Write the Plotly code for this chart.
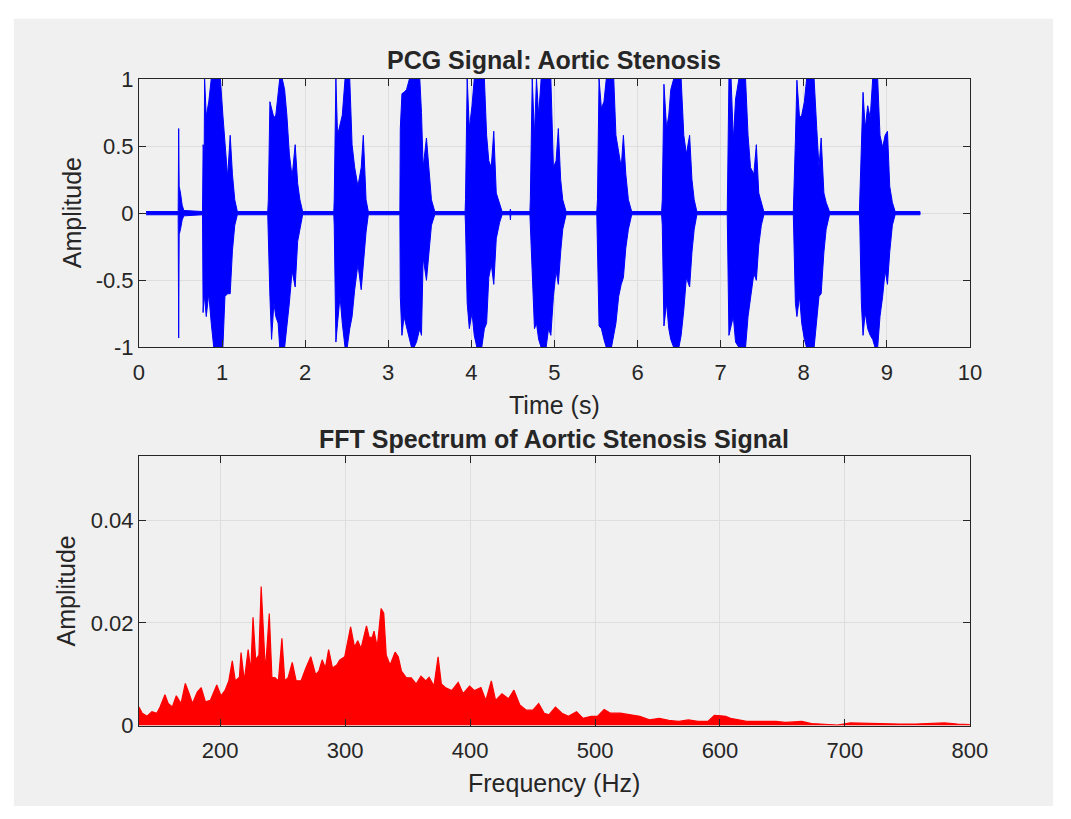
import plotly.graph_objects as go

# ---------------------------------------------------------------
# PCG recording (aortic stenosis): amplitude envelope of the trace,
# sampled in time.  sig_hi / sig_lo are the upper and lower extents
# of the waveform at each instant sig_t (seconds).
# ---------------------------------------------------------------
sig_t = [
    0.086, 0.472, 0.478, 0.484, 0.500, 0.520, 0.540,
    # heartbeat 1
    0.765, 0.772, 0.785, 0.790, 0.810, 0.840, 0.870, 0.900, 0.930, 0.957, 0.980,
    1.010, 1.035, 1.067, 1.098, 1.125, 1.153, 1.184,
    # heartbeat 2
    1.550, 1.557, 1.576, 1.596, 1.624, 1.647, 1.675, 1.694, 1.725, 1.753, 1.780,
    1.810, 1.843, 1.880, 1.910, 1.937, 1.970,
    # heartbeat 3
    2.345, 2.350, 2.370, 2.390, 2.420, 2.447, 2.480, 2.506, 2.537, 2.565, 2.596,
    2.635, 2.675, 2.700, 2.733, 2.760,
    # heartbeat 4
    3.140, 3.145, 3.165, 3.190, 3.220, 3.255, 3.280, 3.310, 3.340, 3.380, 3.400,
    3.420, 3.460, 3.520, 3.560,
    # heartbeat 5
    3.925, 3.930, 3.950, 3.976, 4.008, 4.035, 4.067, 4.094, 4.125, 4.157, 4.184,
    4.210, 4.240, 4.270, 4.300, 4.340, 4.370, 4.465, 4.470, 4.475,
    # heartbeat 6
    4.705, 4.710, 4.733, 4.760, 4.784, 4.810, 4.840, 4.870, 4.900, 4.929, 4.957,
    4.988, 5.020, 5.047, 5.075, 5.100, 5.140,
    # heartbeat 7
    5.510, 5.518, 5.537, 5.565, 5.596, 5.624, 5.655, 5.686, 5.714, 5.740, 5.773,
    5.804, 5.830, 5.859, 5.890, 5.930,
    # heartbeat 8
    6.290, 6.298, 6.318, 6.350, 6.376, 6.400, 6.435, 6.470, 6.498, 6.525, 6.557,
    6.588, 6.627, 6.655, 6.682, 6.714,
    # heartbeat 9
    7.080, 7.100, 7.126, 7.153, 7.180, 7.220, 7.243, 7.270, 7.300, 7.330, 7.360,
    7.400, 7.430, 7.459, 7.490, 7.520,
    # heartbeat 10
    7.875, 7.880, 7.900, 7.918, 7.950, 7.976, 8.008, 8.035, 8.067, 8.094, 8.125,
    8.157, 8.184, 8.210, 8.243, 8.270, 8.310,
    # heartbeat 11
    8.670, 8.675, 8.694, 8.714, 8.740, 8.770, 8.800, 8.830, 8.859, 8.890, 8.918,
    8.950, 8.980, 9.008, 9.035, 9.067, 9.100, 9.400,
]
sig_hi = [
    0.012, 0.012, 0.63, 0.20, 0.15, 0.06, 0.02,
    0.012, 0.51, 0.45, 1.00, 0.72, 0.83, 1.00, 1.00, 1.00, 1.00, 1.00,
    0.73, 0.51, 0.27, 0.58, 0.29, 0.10, 0.012,
    0.012, 0.10, 0.83, 0.78, 0.71, 0.73, 0.90, 1.00, 1.00, 0.92, 0.73,
    0.44, 0.27, 0.51, 0.22, 0.10, 0.012,
    0.012, 0.10, 1.00, 0.58, 0.66, 0.73, 1.00, 1.00, 1.00, 0.51, 0.34,
    0.20, 0.34, 0.58, 0.10, 0.012,
    0.012, 0.63, 0.89, 0.90, 0.92, 1.00, 1.00, 1.00, 1.00, 1.00, 0.75,
    0.34, 0.56, 0.10, 0.012,
    0.012, 0.10, 1.00, 0.63, 0.80, 1.00, 1.00, 1.00, 1.00, 1.00, 0.58,
    0.39, 0.34, 0.61, 0.15, 0.08, 0.012, 0.012, 0.03, 0.012,
    0.012, 0.10, 1.00, 0.58, 1.00, 0.73, 1.00, 1.00, 1.00, 1.00, 1.00,
    0.34, 0.39, 0.63, 0.25, 0.10, 0.012,
    0.012, 0.10, 1.00, 0.78, 0.83, 1.00, 1.00, 1.00, 1.00, 0.58, 0.44,
    0.34, 0.58, 0.29, 0.10, 0.012,
    0.012, 0.10, 0.96, 0.63, 0.73, 0.92, 1.00, 1.00, 1.00, 1.00, 0.58,
    0.44, 0.58, 0.25, 0.10, 0.012,
    0.012, 1.00, 1.00, 0.54, 0.85, 1.00, 1.00, 1.00, 1.00, 0.58, 0.34,
    0.29, 0.51, 0.15, 0.08, 0.012,
    0.012, 0.10, 0.54, 0.99, 0.71, 0.73, 0.83, 1.00, 1.00, 1.00, 1.00,
    0.63, 0.34, 0.56, 0.15, 0.08, 0.012,
    0.012, 0.10, 0.42, 0.90, 0.63, 0.80, 0.71, 1.00, 1.00, 1.00, 0.58,
    0.49, 0.58, 0.61, 0.20, 0.08, 0.012, 0.012,
]
sig_lo = [
    -0.012, -0.012, -0.93, -0.16, -0.12, -0.05, -0.02,
    -0.012, -0.74, -0.60, -0.62, -0.77, -0.60, -0.82, -1.00, -1.00, -1.00, -1.00,
    -1.00, -0.62, -0.60, -0.60, -0.28, -0.09, -0.012,
    -0.012, -0.07, -0.62, -0.94, -0.67, -0.77, -0.82, -1.00, -1.00, -1.00, -0.86,
    -0.67, -0.43, -0.55, -0.21, -0.12, -0.012,
    -0.012, -0.09, -0.96, -0.82, -0.62, -0.82, -1.00, -1.00, -0.86, -0.77, -0.57,
    -0.38, -0.57, -0.41, -0.14, -0.012,
    -0.012, -0.62, -0.91, -0.77, -0.84, -0.94, -1.00, -1.00, -0.96, -0.86, -0.91,
    -0.33, -0.50, -0.09, -0.012,
    -0.012, -0.09, -0.67, -0.86, -0.74, -0.91, -1.00, -1.00, -1.00, -0.86, -0.82,
    -0.48, -0.38, -0.53, -0.19, -0.07, -0.012, -0.012, -0.05, -0.012,
    -0.012, -0.09, -0.38, -0.86, -0.82, -0.94, -1.00, -1.00, -1.00, -0.86, -0.91,
    -0.62, -0.43, -0.53, -0.29, -0.12, -0.012,
    -0.012, -0.09, -0.84, -0.86, -0.94, -1.00, -1.00, -1.00, -0.91, -0.82, -0.62,
    -0.53, -0.48, -0.26, -0.12, -0.012,
    -0.012, -0.09, -0.84, -0.67, -0.86, -0.94, -1.00, -1.00, -1.00, -0.91, -0.72,
    -0.48, -0.55, -0.29, -0.12, -0.012,
    -0.012, -0.91, -0.84, -0.77, -0.96, -1.00, -1.00, -1.00, -1.00, -0.77, -0.62,
    -0.45, -0.50, -0.24, -0.09, -0.012,
    -0.012, -0.09, -0.67, -0.77, -0.62, -0.82, -0.94, -1.00, -1.00, -1.00, -1.00,
    -0.82, -0.62, -0.60, -0.29, -0.12, -0.012,
    -0.012, -0.09, -0.67, -0.91, -0.74, -0.86, -0.91, -0.94, -1.00, -1.00, -0.77,
    -0.62, -0.43, -0.53, -0.29, -0.09, -0.012, -0.012,
]

# ---------------------------------------------------------------
# Magnitude spectrum (upper envelope) of the same recording.
# ---------------------------------------------------------------
fft_freq = [
    135.0, 137.6, 141.5, 145.4, 149.3, 151.9, 155.8, 158.4, 161.7, 164.9,
    168.7, 172.1, 175.2, 177.8, 181.7, 184.8, 188.2, 192.1, 197.3, 200.6,
    203.8, 206.9, 209.7, 212.1, 215.4, 216.7, 219.3, 222.4, 224.5, 226.3,
    228.4, 231.0, 232.8, 234.4, 236.2, 239.3, 241.4, 244.0, 246.6, 249.4,
    251.7, 254.3, 257.7, 260.8, 264.7, 268.6, 272.5, 276.4, 279.0, 281.6,
    284.2, 286.8, 289.9, 293.3, 295.8, 299.7, 302.3, 304.4, 307.5, 310.1,
    312.7, 315.3, 317.1, 319.2, 321.8, 323.1, 325.7, 328.8, 330.9, 332.9,
    336.0, 340.0, 342.5, 345.1, 349.0, 352.9, 356.8, 360.7, 364.6, 367.2,
    371.1, 374.4, 377.0, 380.1, 385.3, 390.5, 394.4, 399.6, 403.5, 408.7,
    412.6, 417.0, 420.4, 425.5, 430.7, 435.1, 439.8, 445.0, 450.2, 454.9,
    459.3, 463.2, 468.3, 473.5, 478.7, 485.2, 490.4, 496.9, 502.1, 507.3,
    512.4, 520.2, 528.0, 535.8, 543.6, 551.4, 559.1, 566.9, 574.7, 582.5,
    590.3, 595.5, 600.6, 604.5, 608.4, 613.6, 621.4, 629.2, 637.0, 644.7,
    652.5, 665.5, 673.3, 683.6, 694.0, 704.4, 717.4, 730.3, 743.3, 756.3,
    769.3, 779.6, 790.0, 797.3, 800.0,
]
fft_amp = [
    0.0036, 0.0024, 0.0018, 0.0027, 0.0024, 0.0036, 0.0060, 0.0043, 0.0036, 0.0058,
    0.0043, 0.0082, 0.0062, 0.0043, 0.0065, 0.0074, 0.0046, 0.0049, 0.0079, 0.0058,
    0.0068, 0.0087, 0.0126, 0.0087, 0.0094, 0.0142, 0.0087, 0.0148, 0.0106, 0.0211,
    0.0128, 0.0137, 0.0271, 0.0191, 0.0106, 0.0218, 0.0094, 0.0093, 0.0087, 0.0170,
    0.0087, 0.0093, 0.0123, 0.0087, 0.0087, 0.0112, 0.0134, 0.0099, 0.0106, 0.0128,
    0.0112, 0.0148, 0.0112, 0.0118, 0.0128, 0.0134, 0.0169, 0.0192, 0.0153, 0.0165,
    0.0150, 0.0175, 0.0194, 0.0172, 0.0172, 0.0184, 0.0153, 0.0228, 0.0219, 0.0137,
    0.0118, 0.0143, 0.0134, 0.0106, 0.0093, 0.0093, 0.0081, 0.0096, 0.0087, 0.0094,
    0.0077, 0.0134, 0.0081, 0.0074, 0.0068, 0.0084, 0.0062, 0.0077, 0.0068, 0.0074,
    0.0049, 0.0087, 0.0049, 0.0062, 0.0052, 0.0069, 0.0040, 0.0030, 0.0030, 0.0043,
    0.0024, 0.0021, 0.0036, 0.0024, 0.0018, 0.0027, 0.0014, 0.0018, 0.0018, 0.0031,
    0.0024, 0.0024, 0.0021, 0.0018, 0.0011, 0.0014, 0.0010, 0.0008, 0.0011, 0.0008,
    0.0008, 0.0020, 0.0019, 0.0018, 0.0014, 0.0011, 0.0008, 0.0008, 0.0008, 0.0008,
    0.0006, 0.0008, 0.0004, 0.0003, 0.0001, 0.0005, 0.0004, 0.0004, 0.0003, 0.0003,
    0.0004, 0.0005, 0.0003, 0.0002, 0.0002,
]

time_ticks = list(range(0, 11))
amp_ticks = [-1, -0.5, 0, 0.5, 1]
freq_ticks = [200, 300, 400, 500, 600, 700, 800]
spec_ticks = [0, 0.02, 0.04]

# ---------------------------------------------------------------
# Page geometry (pixels) -> paper fractions
# ---------------------------------------------------------------
W, H = 1071, 819


def fx(x):
    return x / W


def fy(y):
    return 1 - y / H


FONT = "Liberation Sans, Arial, Helvetica, sans-serif"
INK = "#262626"
GRID = "#dedede"

fig = go.Figure()

# waveform: envelope polygon (upper edge forward, lower edge back)
fig.add_trace(go.Scatter(
    x=sig_t + sig_t[::-1],
    y=sig_hi + sig_lo[::-1],
    mode="lines",
    fill="toself",
    fillcolor="#0000ff",
    line=dict(color="#0000ff", width=1),
    hoverinfo="skip",
    showlegend=False,
    xaxis="x", yaxis="y",
))

# spectrum
fig.add_trace(go.Scatter(
    x=fft_freq,
    y=fft_amp,
    mode="lines",
    fill="tozeroy",
    fillcolor="#ff0000",
    line=dict(color="#ff0000", width=1.2),
    hoverinfo="skip",
    showlegend=False,
    xaxis="x2", yaxis="y2",
))

axis_common = dict(
    showline=True, linecolor=INK, linewidth=1, mirror="ticks",
    ticks="inside", ticklen=7, tickwidth=1, tickcolor=INK,
    showgrid=True, gridcolor=GRID, gridwidth=1, zeroline=False,
    tickfont=dict(family=FONT, size=22, color=INK),
)

fig.update_layout(
    width=W, height=H,
    margin=dict(l=0, r=0, t=0, b=0),
    paper_bgcolor="#ffffff",
    plot_bgcolor="#ffffff",
    showlegend=False,
    xaxis=dict(domain=[fx(136), fx(986)], range=[0, 10], tickvals=time_ticks,
               anchor="y", ticklabelstandoff=5, **axis_common),
    yaxis=dict(domain=[fy(346), fy(69)], range=[-1, 1], tickvals=amp_ticks,
               ticktext=["-1", "-0.5", "0", "0.5", "1"],
               anchor="x", **axis_common),
    xaxis2=dict(domain=[fx(136), fx(986)], range=[135, 800], tickvals=freq_ticks,
                anchor="y2", ticklabelstandoff=5, **axis_common),
    yaxis2=dict(domain=[fy(736), fy(458)], range=[0, 0.0525], tickvals=spec_ticks,
                ticktext=["0", "0.02", "0.04"],
                anchor="x2", **axis_common),
    shapes=[dict(type="rect", xref="paper", yref="paper", layer="below",
                 x0=fx(8), x1=1, y0=0, y1=fy(7),
                 fillcolor="#f0f0f0", line=dict(width=0))],
)

# titles and axis labels
texts = [
    ("<b>PCG Signal: Aortic Stenosis</b>", 561, 50, 0, 25),
    ("Time (s)", 561, 405, 0, 25),
    ("Amplitude", 67, 207, -90, 25),
    ("<b>FFT Spectrum of Aortic Stenosis Signal</b>", 561, 440, 0, 25),
    ("Frequency (Hz)", 561, 795, 0, 25),
    ("Amplitude", 61, 597, -90, 25),
]
for txt, x, y, ang, size in texts:
    fig.add_annotation(
        text=txt, xref="paper", yref="paper", x=fx(x), y=fy(y),
        xanchor="center", yanchor="middle", showarrow=False, textangle=ang,
        font=dict(family=FONT, size=size, color=INK),
    )

fig.write_html("out.html")
